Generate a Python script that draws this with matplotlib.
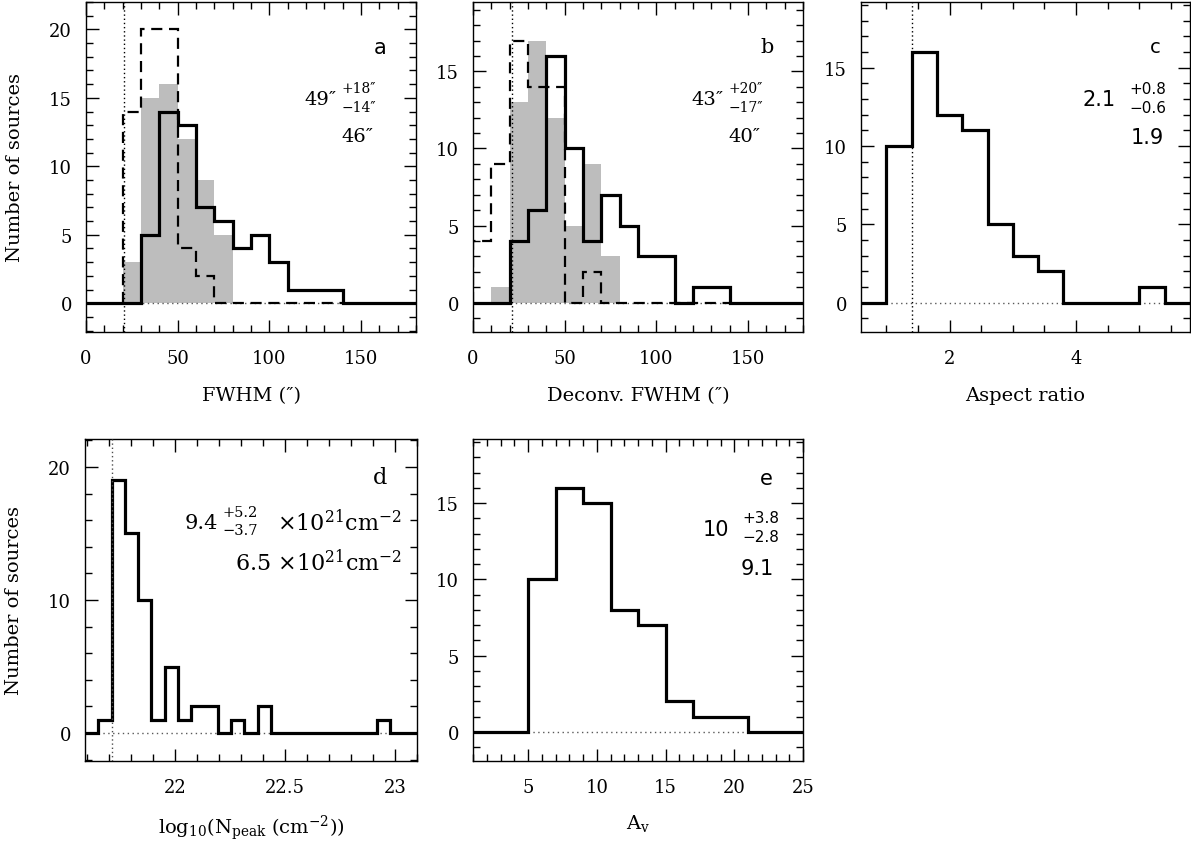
import numpy as np
import matplotlib
matplotlib.use("Agg")
import matplotlib.pyplot as plt
from matplotlib.ticker import MultipleLocator

plt.rcParams['font.family'] = ['DejaVu Serif']
plt.rcParams['mathtext.fontset'] = 'dejavuserif'

# ---------------- data ----------------
# panel a: FWHM (arcsec), bins of 10"
fwhm_edges = np.arange(0, 190, 10)
fwhm_solid = [0, 0, 0, 5, 14, 13, 7, 6, 4, 5, 3, 1, 1, 1, 0, 0, 0, 0]
fwhm_grey = [0, 0, 3, 15, 16, 12, 9, 5, 0, 0, 0, 0, 0, 0, 0, 0, 0, 0]
fwhm_dash = [0, 0, 14, 20, 20, 4, 2, 0, 0, 0, 0, 0, 0, 0, 0, 0, 0, 0]
fwhm_beam = 20.5

# panel b: deconvolved FWHM
dec_solid = [0, 0, 4, 6, 16, 10, 4, 7, 5, 3, 3, 0, 1, 1, 0, 0, 0, 0]
dec_grey = [0, 1, 13, 17, 12, 5, 9, 3, 0, 0, 0, 0, 0, 0, 0, 0, 0, 0]
dec_dash = [4, 9, 17, 14, 14, 0, 2, 0, 0, 0, 0, 0, 0, 0, 0, 0, 0, 0]
dec_beam = 21

# panel c: aspect ratio, bins of 0.4
ar_edges = [0.6, 1.0, 1.4, 1.8, 2.2, 2.6, 3.0, 3.4, 3.8, 4.2, 4.6, 5.0, 5.4, 5.8]
ar_counts = [0, 10, 16, 12, 11, 5, 3, 2, 0, 0, 0, 1, 0]
ar_limit = 1.4

# panel d: log10 peak column density
nh_start, nh_width = 21.59, 0.0604
nh_counts = [0, 1, 19, 15, 10, 1, 5, 1, 2, 2, 0, 1, 0, 2,
             0, 0, 0, 0, 0, 0, 0, 0, 1, 0, 0]
nh_limit = 21.711

# panel e: Av, bins of 2 mag
av_edges = [1, 3, 5, 7, 9, 11, 13, 15, 17, 19, 21, 23, 25]
av_counts = [0, 0, 10, 16, 15, 8, 7, 2, 1, 1, 0, 0]

GREY = '#bdbdbd'
fig = plt.figure(figsize=(11.91, 8.45), dpi=100)


def px_axes(x0, y0, x1, y1):
    return fig.add_axes([x0 / 1191, 1 - y1 / 845, (x1 - x0) / 1191, (y1 - y0) / 845])


def style(ax, xmaj, xmin, ymaj, ymin):
    ax.xaxis.set_major_locator(MultipleLocator(xmaj))
    ax.xaxis.set_minor_locator(MultipleLocator(xmin))
    ax.yaxis.set_major_locator(MultipleLocator(ymaj))
    ax.yaxis.set_minor_locator(MultipleLocator(ymin))
    ax.tick_params(which='both', direction='in', top=True, right=True,
                   width=1.0, labelsize=13)
    ax.tick_params(which='major', length=9)
    ax.tick_params(which='minor', length=5)
    ax.tick_params(axis='x', which='major', pad=12)
    ax.tick_params(axis='y', which='major', pad=10)
    for s in ax.spines.values():
        s.set_linewidth(1.0)


def baseline(ax, x0, x1):
    ax.plot([x0, x1], [0, 0], color='0.35', lw=1.0, ls=(0, (1, 2.5)), zorder=1)


def ann(ax, main, up, low, xr, ym, xs, dy_up=0.032, dy_lo=0.025, fs=14, fs2=10,
        family='DejaVu Serif'):
    ax.text(xr, ym, main, transform=ax.transAxes, ha='right', va='center',
            fontsize=fs, family=family)
    ax.text(xs, ym + dy_up, up, transform=ax.transAxes, ha='left', va='center',
            fontsize=fs2, family=family)
    ax.text(xs, ym - dy_lo, low, transform=ax.transAxes, ha='left', va='center',
            fontsize=fs2, family=family)


# ---------- panel a ----------
ax = px_axes(86, 3, 416, 333)
ax.stairs(fwhm_grey, fwhm_edges, fill=True, color=GREY, lw=0, zorder=0)
baseline(ax, 20, 140)
ax.stairs(fwhm_dash[2:14], fwhm_edges[2:15], baseline=0, color='k', lw=1.6,
          ls=(0, (5, 3)), zorder=2)
ax.stairs(fwhm_solid, fwhm_edges, baseline=None, color='k', lw=2.3, zorder=3)
ax.axvline(fwhm_beam, color='k', lw=1.0, ls=(0, (1, 2)), zorder=4)
ax.set_xlim(0, 180)
ax.set_ylim(-2.1, 22)
style(ax, 50, 10, 5, 1)
ax.set_xlabel("FWHM (″)", fontsize=14, labelpad=14)
ax.set_ylabel("Number of sources", fontsize=14, labelpad=18)
ax.text(0.89, 0.865, "a", transform=ax.transAxes, ha='center', va='center',
        fontsize=15, family='DejaVu Sans')
ann(ax, "49″", "+18″", "−14″", 0.76, 0.706, 0.775)
ax.text(0.87, 0.594, "46″", transform=ax.transAxes, ha='right', va='center', fontsize=14)

# ---------- panel b ----------
ax = px_axes(473, 3, 803, 333)
ax.stairs(dec_grey, fwhm_edges, fill=True, color=GREY, lw=0, zorder=0)
baseline(ax, 10, 140)
ax.stairs(dec_dash[0:14], fwhm_edges[0:15], baseline=0, color='k', lw=1.6,
          ls=(0, (5, 3)), zorder=2)
ax.stairs(dec_solid, fwhm_edges, baseline=None, color='k', lw=2.3, zorder=3)
ax.axvline(dec_beam, color='k', lw=1.0, ls=(0, (1, 2)), zorder=4)
ax.set_xlim(0, 180)
ax.set_ylim(-1.9, 19.5)
style(ax, 50, 10, 5, 1)
ax.set_xlabel("Deconv. FWHM (″)", fontsize=14, labelpad=14)
ax.text(0.89, 0.865, "b", transform=ax.transAxes, ha='center', va='center', fontsize=15)
ann(ax, "43″", "+20″", "−17″", 0.76, 0.706, 0.775)
ax.text(0.87, 0.594, "40″", transform=ax.transAxes, ha='right', va='center', fontsize=14)

# ---------- panel c ----------
ax = px_axes(861, 3, 1190, 333)
baseline(ax, ar_edges[1], ar_edges[-2])
ax.stairs(ar_counts, ar_edges, baseline=None, color='k', lw=2.3, zorder=3)
ax.axvline(ar_limit, color='k', lw=1.0, ls=(0, (1, 2)), zorder=4)
ax.set_xlim(ar_edges[0], ar_edges[-1])
ax.set_ylim(-1.87, 19.2)
style(ax, 2, 0.5, 5, 1)
ax.set_xlabel("Aspect ratio", fontsize=14, labelpad=14)
ax.text(0.894, 0.865, "c", transform=ax.transAxes, ha='center', va='center',
        fontsize=14, family='DejaVu Sans')
ann(ax, "2.1", "+0.8", "−0.6", 0.773, 0.706, 0.815, fs=15, fs2=11, family='DejaVu Sans')
ax.text(0.87, 0.59, "1.9", transform=ax.transAxes, ha='center', va='center',
        fontsize=15, family='DejaVu Sans')

# ---------- panel d ----------
nh_edges = nh_start + nh_width * np.arange(len(nh_counts) + 1)
ax = px_axes(85, 440, 417, 762)
baseline(ax, nh_edges[1], nh_edges[-3])
ax.stairs(nh_counts, nh_edges, baseline=None, color='k', lw=2.3, zorder=3)
ax.axvline(nh_limit, color='0.3', lw=1.0, ls=(0, (1, 2)), zorder=4)
ax.set_xlim(nh_edges[0], nh_edges[-1])
ax.set_ylim(-2.1, 22.1)
style(ax, 0.5, 0.1, 10, 2)
ax.set_xticks([22, 22.5, 23])
ax.set_xticklabels(["22", "22.5", "23"])
ax.set_xlabel(r"log$_{10}$(N$_{\rm peak}$ (cm$^{-2}$))", fontsize=14, labelpad=12)
ax.set_ylabel("Number of sources", fontsize=14, labelpad=18)
ax.text(0.888, 0.882, "d", transform=ax.transAxes, ha='center', va='center', fontsize=16)
ax.text(0.40, 0.742, "9.4", transform=ax.transAxes, ha='right', va='center', fontsize=15)
ax.text(0.415, 0.772, "+5.2", transform=ax.transAxes, ha='left', va='center', fontsize=10.5)
ax.text(0.415, 0.718, "−3.7", transform=ax.transAxes, ha='left', va='center', fontsize=10.5)
ax.text(0.955, 0.742, r"$\times$10$^{21}$cm$^{-2}$", transform=ax.transAxes,
        ha='right', va='center', fontsize=16)
ax.text(0.955, 0.618, r"6.5 $\times$10$^{21}$cm$^{-2}$", transform=ax.transAxes,
        ha='right', va='center', fontsize=16)

# ---------- panel e ----------
ax = px_axes(473, 440, 803, 762)
baseline(ax, av_edges[2], av_edges[-3])
ax.stairs(av_counts, av_edges, baseline=None, color='k', lw=2.3, zorder=3)
ax.set_xlim(av_edges[0], av_edges[-1])
ax.set_ylim(-1.9, 19.2)
style(ax, 5, 1, 5, 1)
ax.set_xlabel(r"A$_{\rm v}$", fontsize=14, labelpad=12)
ax.text(0.89, 0.88, "e", transform=ax.transAxes, ha='center', va='center',
        fontsize=15, family='DejaVu Sans')
ann(ax, "10", "+3.8", "−2.8", 0.775, 0.72, 0.815, dy_up=0.035, dy_lo=0.024,
    fs=15, fs2=11, family='DejaVu Sans')
ax.text(0.86, 0.60, "9.1", transform=ax.transAxes, ha='center', va='center',
        fontsize=15, family='DejaVu Sans')

fig.savefig("out.png", dpi=100)
